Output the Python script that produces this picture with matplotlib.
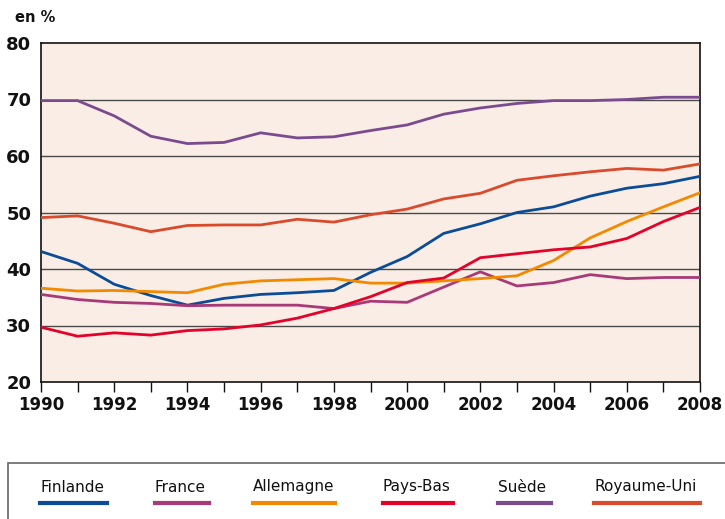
import matplotlib

matplotlib.use("Agg")
import matplotlib.pyplot as plt
from matplotlib.lines import Line2D
from matplotlib.patches import Rectangle

years = list(range(1990, 2009))

finlande = [43.1, 41.0, 37.3, 35.3, 33.6, 34.8, 35.5, 35.8, 36.2, 39.4, 42.2,
            46.3, 48.0, 50.0, 51.0, 52.9, 54.3, 55.1, 56.4]
france = [35.5, 34.6, 34.1, 33.9, 33.5, 33.6, 33.6, 33.6, 33.0, 34.3, 34.1,
          36.8, 39.5, 37.0, 37.6, 39.0, 38.3, 38.5, 38.5]
allemagne = [36.6, 36.1, 36.2, 36.0, 35.8, 37.3, 37.9, 38.1, 38.3, 37.5, 37.5,
             37.9, 38.3, 38.8, 41.5, 45.5, 48.4, 51.0, 53.5]
pays_bas = [29.7, 28.1, 28.7, 28.3, 29.1, 29.4, 30.1, 31.3, 33.0, 35.1, 37.6,
            38.4, 42.0, 42.7, 43.4, 43.9, 45.4, 48.4, 50.9]
suede = [69.8, 69.8, 67.1, 63.5, 62.2, 62.4, 64.1, 63.2, 63.4, 64.5, 65.5,
         67.4, 68.5, 69.3, 69.8, 69.8, 70.0, 70.4, 70.4]
royaume_uni = [49.1, 49.4, 48.1, 46.6, 47.7, 47.8, 47.8, 48.8, 48.3, 49.6, 50.6,
               52.4, 53.4, 55.7, 56.5, 57.2, 57.8, 57.5, 58.6]

series = [
    ("Finlande", finlande, "#0b4c98"),
    ("France", france, "#a83a78"),
    ("Allemagne", allemagne, "#f28a00"),
    ("Pays-Bas", pays_bas, "#e3022a"),
    ("Suède", suede, "#7b4b90"),
    ("Royaume-Uni", royaume_uni, "#d94b2c"),
]
# legend x extents in pixels (start, end)
legend_x = [(40, 107), (155, 209), (253, 335), (383, 453), (498, 551), (594, 700)]

W, H = 725, 519
fig = plt.figure(figsize=(W / 100, H / 100), dpi=100)
ax = fig.add_axes([41 / W, 1 - 382 / H, (700 - 41) / W, (382 - 43) / H])
ax.set_facecolor("#f9ede5")

for y in [30, 40, 50, 60, 70]:
    ax.axhline(y, color="#4a4a4a", linewidth=1.0, zorder=1)

for name, vals, col in series:
    ax.plot(years, vals, color=col, linewidth=2.0, zorder=3)

ax.set_xlim(1990, 2008)
ax.set_ylim(20, 80)
ax.set_yticks([20, 30, 40, 50, 60, 70, 80])
ax.set_xticks(years, minor=False)
ax.set_xticklabels([str(y) if y % 2 == 0 else "" for y in years])
ax.tick_params(axis="x", direction="out", length=7, width=1, pad=3,
               labelsize=12, colors="#111111")
ax.tick_params(axis="y", length=0, pad=7, labelsize=13, colors="#111111")
for lab in ax.get_xticklabels() + ax.get_yticklabels():
    lab.set_fontweight("bold")
for s in ax.spines.values():
    s.set_color("#111111")
    s.set_linewidth(1.2)

fig.text(15 / W, 1 - 18 / H, "en %", fontsize=10.5, fontweight="bold",
         va="center", ha="left", color="#111111")

# legend box
fig.patches.append(Rectangle((8 / W, -0.05), 1.0, 1 - 463 / H + 0.05,
                             transform=fig.transFigure, fill=False,
                             edgecolor="#666666", linewidth=1.2))
for (name, vals, col), (x0, x1) in zip(series, legend_x):
    fig.text(x0 / W, 1 - 487 / H, name, fontsize=11, color="#111111",
             va="center", ha="left")
    fig.lines.append(Line2D([x0 / W, x1 / W], [1 - 503 / H, 1 - 503 / H],
                            transform=fig.transFigure, color=col, linewidth=3))

fig.savefig("out.png", dpi=100)
